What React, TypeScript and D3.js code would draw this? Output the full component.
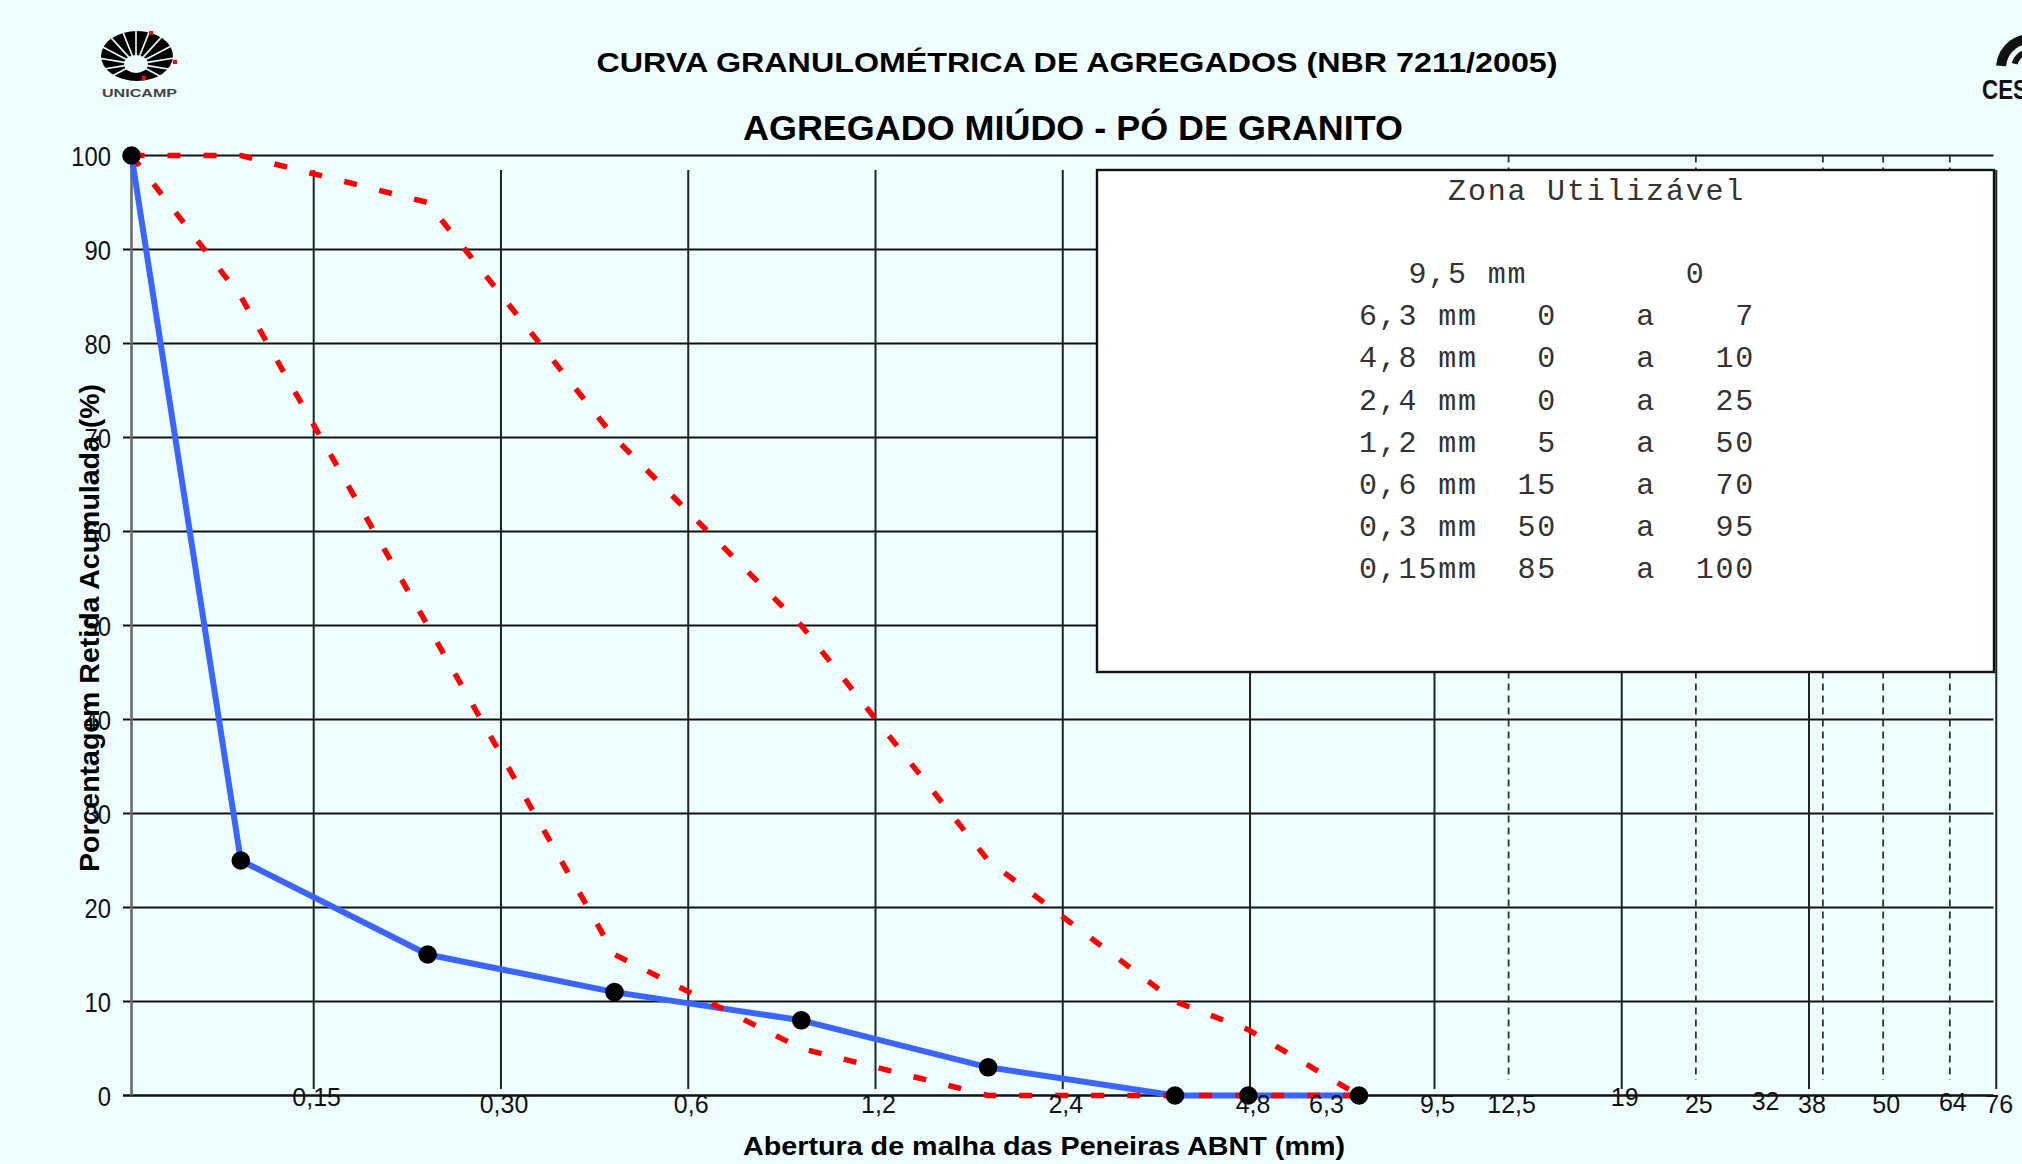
import React from "react";
import * as d3 from "d3";

const W = 2022;
const H = 1164;

// aberturas das peneiras (mm) e % retida acumulada
const openings = [0.1, 0.15, 0.3, 0.6, 1.2, 2.4, 4.8, 6.3, 9.5];
const sampleRetained = [100, 25, 15, 11, 8, 3, 0, 0, 0];
const lowerLimit = [100, 85, 50, 15, 5, 0, 0, 0, 0];
const upperLimit = [100, 100, 95, 70, 50, 25, 10, 7, 0];

// grade de fundo
const gridSolid = [0.15, 0.3, 0.6, 1.2, 2.4, 4.8, 9.5, 19, 38, 76];
const gridDashed = [12.5, 25, 40, 50, 64];
const xTickValues = [0.15, 0.3, 0.6, 1.2, 2.4, 4.8, 6.3, 9.5, 12.5, 19, 25, 32, 38, 50, 64, 76];
const xTickLabels = ["0,15", "0,30", "0,6", "1,2", "2,4", "4,8", "6,3", "9,5", "12,5", "19", "25", "32", "38", "50", "64", "76"];
const yTicks = [0, 10, 20, 30, 40, 50, 60, 70, 80, 90, 100];

// zona utilizável (NBR 7211)
const zoneTitle = "Zona Utilizável";
const zoneTopSieve = "9,5 mm";
const zoneTopValue = 0;
const zoneSieves = ["6,3 mm", "4,8 mm", "2,4 mm", "1,2 mm", "0,6 mm", "0,3 mm", "0,15mm"];
const zoneMin = [0, 0, 0, 5, 15, 50, 85];
const zoneMax = [7, 10, 25, 50, 70, 95, 100];

const labelDy: Record<string, number> = { "0,15": -7, "19": -7, "32": -3, "64": -2 };

const BG = "#EEFEFF";
const FONT = "'Liberation Sans', Arial, sans-serif";

export default function App() {
  const left = 131.5;
  const right = 1993.5;
  const gridTop = 170;

  const x = d3.scaleLog().domain([0.1, 100]).range([left, right]);
  const xGrid = d3.scaleLog().domain([0.15, 38]).range([313.7, 1809]);
  const y = d3.scaleLinear().domain([0, 100]).range([1095.5, 155.5]);

  const line = d3
    .line<number>()
    .x((_, i) => x(openings[i]))
    .y((d) => y(d));

  // logo unicamp
  const logoCx = 136;
  const logoCy = 64;
  const rays = d3.range(13).map((i) => (Math.PI * (150 + i * 20)) / 180);

  const arc = d3.arc();
  const swooshes = [
    { inner: 24, outer: 34, a0: -1.5, a1: 0.25 },
    { inner: 13, outer: 19, a0: -1.3, a1: 0.45 },
    { inner: 4, outer: 8, a0: -1.1, a1: 0.6 },
  ];

  const boxX = 1097;
  const boxY = 170;
  const boxW = 897;
  const boxH = 502;
  const col0 = 1359;
  const colW = 19.8;

  return (
    <svg
      width={W}
      height={H}
      style={{ position: "absolute", left: 0, top: 0, display: "block" }}
      fontFamily={FONT}
    >
      <rect width={W} height={H} fill={BG} />

      {/* linhas horizontais */}
      {yTicks.map((v) => (
        <line key={"h" + v} x1={123} x2={right} y1={y(v)} y2={y(v)} stroke="#111" strokeWidth={v === 0 ? 2.6 : 1.8} />
      ))}

      {/* grade vertical */}
      {gridSolid.map((v) => (
        <line key={"s" + v} x1={xGrid(v)} x2={xGrid(v)} y1={gridTop} y2={1089} stroke="#222" strokeWidth={2} />
      ))}
      {gridDashed.map((v) => (
        <line
          key={"d" + v}
          x1={xGrid(v)}
          x2={xGrid(v)}
          y1={y(100)}
          y2={1080}
          stroke="#333"
          strokeWidth={1.8}
          strokeDasharray="7 5"
        />
      ))}

      {/* eixo y */}
      <line x1={left} x2={left} y1={y(100)} y2={y(0)} stroke="#6a6a6a" strokeWidth={2.6} />

      {/* quadro da zona utilizável */}
      <rect x={boxX} y={boxY} width={boxW} height={boxH} fill="#fff" stroke="#111" strokeWidth={2.4} />
      <g fontFamily="'Liberation Mono', 'Courier New', monospace" fontSize={30} fill="#333" style={{ letterSpacing: "1.8px", whiteSpace: "pre" }}>
        <text x={col0 + 4.5 * colW} y={200} xmlSpace="preserve">
          {zoneTitle}
        </text>
        <text x={col0 + 2.5 * colW} y={283} xmlSpace="preserve">
          {zoneTopSieve.padEnd(14) + String(zoneTopValue)}
        </text>
        {zoneSieves.map((s, i) => (
          <text key={s} x={col0} y={283 + (i + 1) * 42.2} xmlSpace="preserve">
            {s.padEnd(7) + String(zoneMin[i]).padStart(3) + "    a" + String(zoneMax[i]).padStart(5)}
          </text>
        ))}
      </g>

      {/* amostra */}
      <path d={line(sampleRetained) ?? ""} fill="none" stroke="#3A66FF" strokeWidth={6} strokeLinejoin="round" />

      {/* limites */}
      <path d={line(lowerLimit) ?? ""} fill="none" stroke="#FF0000" strokeWidth={5.5} strokeDasharray="13 23" />
      <path d={line(upperLimit) ?? ""} fill="none" stroke="#FF0000" strokeWidth={5.5} strokeDasharray="13 23" />

      {sampleRetained.map((v, i) => (
        <circle key={"p" + i} cx={x(openings[i])} cy={y(v)} r={9.3} fill="#000" />
      ))}

      {/* rótulos y */}
      {yTicks.map((v) => (
        <text
          key={"yl" + v}
          transform={`translate(111, ${y(v) + 10}) scale(0.85, 1)`}
          textAnchor="end"
          fontSize={28}
          fill="#111"
        >
          {v}
        </text>
      ))}

      {/* rótulos x */}
      {xTickValues.map((v, i) => (
        <text
          key={"xl" + v}
          x={xGrid(v) + 3}
          y={1113 + (labelDy[xTickLabels[i]] ?? 0)}
          textAnchor="middle"
          fontSize={25}
          fill="#111"
        >
          {xTickLabels[i]}
        </text>
      ))}

      {/* títulos */}
      <text x={1077} y={72} textAnchor="middle" fontSize={28} fontWeight="bold" textLength={961} lengthAdjust="spacingAndGlyphs">
        CURVA GRANULOMÉTRICA DE AGREGADOS (NBR 7211/2005)
      </text>
      <text x={1073} y={140} textAnchor="middle" fontSize={35} fontWeight="bold" textLength={660} lengthAdjust="spacingAndGlyphs">
        AGREGADO MIÚDO - PÓ DE GRANITO
      </text>
      <text x={1044} y={1155} textAnchor="middle" fontSize={26} fontWeight="bold" textLength={602} lengthAdjust="spacingAndGlyphs">
        Abertura de malha das Peneiras ABNT (mm)
      </text>
      <text
        transform="translate(99, 628) rotate(-90)"
        textAnchor="middle"
        fontSize={28}
        fontWeight="bold"
        textLength={488}
        lengthAdjust="spacingAndGlyphs"
      >
        Porcentagem Retida Acumulada (%)
      </text>

      {/* logo UNICAMP */}
      <g>
        <ellipse cx={137} cy={56} rx={36} ry={25} fill="#000" />
        {rays.map((a, i) => (
          <line
            key={"r" + i}
            x1={logoCx + Math.cos(a) * 10}
            y1={logoCy + Math.sin(a) * 8}
            x2={logoCx + Math.cos(a) * 45}
            y2={logoCy + Math.sin(a) * 40}
            stroke={BG}
            strokeWidth={1.6}
          />
        ))}
        <ellipse cx={logoCx} cy={logoCy} rx={12} ry={9} fill={BG} />
        <rect x={149} y={31} width={4} height={4} fill="#f00" />
        <rect x={173} y={60} width={4} height={4} fill="#f00" />
        <rect x={142} y={76} width={4} height={4} fill="#f00" />
        <text x={102} y={97} fontSize={10} fontWeight="bold" fill="#444" textLength={75} lengthAdjust="spacingAndGlyphs">
          UNICAMP
        </text>
      </g>

      {/* logo CES */}
      <g transform="translate(2030, 68)">
        {swooshes.map((s, i) => (
          <path
            key={"w" + i}
            d={arc({ innerRadius: s.inner, outerRadius: s.outer, startAngle: s.a0, endAngle: s.a1 }) ?? ""}
            fill="#111"
          />
        ))}
      </g>
      <text x={1982} y={99} fontSize={27} fontWeight="bold" fill="#111" textLength={46} lengthAdjust="spacingAndGlyphs">
        CES
      </text>
    </svg>
  );
}
